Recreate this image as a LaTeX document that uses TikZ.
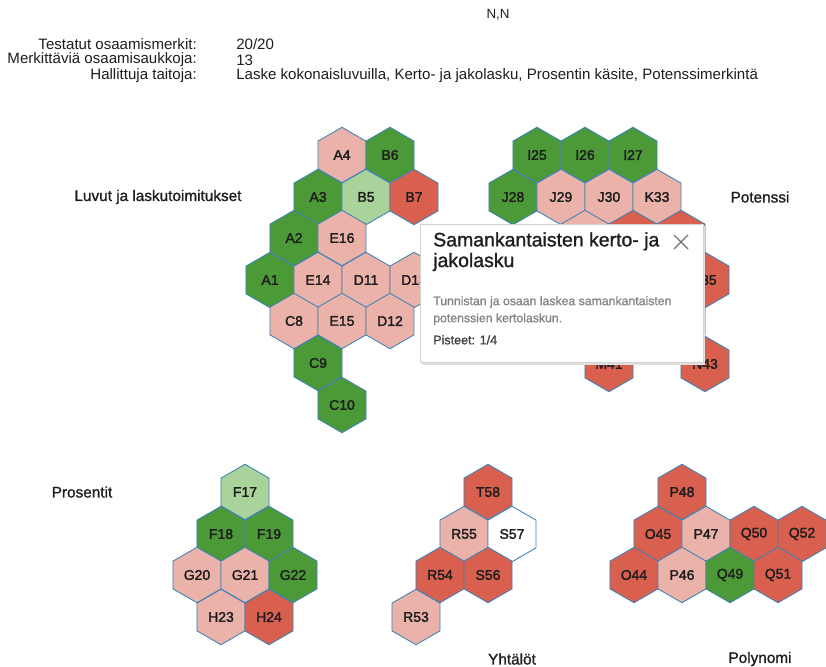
\documentclass[tikz,border=0pt]{standalone}
\usepackage{fontspec}
\setmainfont{Liberation Sans}
\newfontfamily\hexf[FakeBold=2]{Liberation Sans}
\newfontfamily\medf[FakeBold=1.2]{Liberation Sans}
\usetikzlibrary{shapes.geometric,calc}
\definecolor{hgreen}{HTML}{4C9A37}
\definecolor{hlgreen}{HTML}{A9D39B}
\definecolor{hpink}{HTML}{EBB2AA}
\definecolor{hred}{HTML}{D9604F}
\definecolor{hborder}{HTML}{3F82B6}
\definecolor{txt}{HTML}{1E1E1E}
\definecolor{gtxt}{HTML}{858585}
\tikzset{
  hexa/.style={regular polygon, regular polygon sides=6, shape border rotate=30,
    minimum size=41.6pt, inner sep=0pt, outer sep=0pt, draw=hborder, line width=0.65pt,
    font=\hexf\fontsize{10.5pt}{12pt}\selectfont, text=txt},
  cat/.style={font=\medf\fontsize{11.5pt}{13pt}\selectfont, text=txt, inner sep=0pt},
  head/.style={font=\fontsize{11.3pt}{13pt}\selectfont, text=txt, inner sep=0pt},
}
\newcommand\hx[5]{\node[hexa, fill=#4] (#1) at (#2,#3) {#5};}
\begin{document}
\begin{tikzpicture}[x=0.75pt,y=-0.75pt]
\useasboundingbox[fill=white] (0,0) rectangle (826,667);
% header
\node[head, font=\fontsize{10pt}{12pt}\selectfont] (nn) at (498,15) {N,N};
\node[head, anchor=east] (l1) at (197,44) {Testatut osaamismerkit:};
\node[head, anchor=east] (l2) at (197,60) {Merkittäviä osaamisaukkoja:};
\node[head, anchor=east] (l3) at (197,76) {Hallittuja taitoja:};
\node[head, anchor=west] (v1) at (236,44) {20/20};
\node[head, anchor=west] (v2) at (236,60) {13};
\node[head, anchor=west] (v3) at (236,76) {Laske kokonaisluvuilla, Kerto- ja jakolasku, Prosentin käsite, Potenssimerkintä};
% categories
\node[cat] (c1) at (158,197) {Luvut ja laskutoimitukset};
\node[cat] (c2) at (760,197) {Potenssi};
\node[cat] (c3) at (82,492) {Prosentit};
\node[cat] (c4) at (512,659) {Yhtälöt};
\node[cat] (c5) at (760,659) {Polynomi};
% Luvut ja laskutoimitukset
\hx{A4}{342}{155}{hpink}{A4}
\hx{B6}{390}{155}{hgreen}{B6}
\hx{A3}{318}{197}{hgreen}{A3}
\hx{B5}{366}{197}{hlgreen}{B5}
\hx{B7}{414}{197}{hred}{B7}
\hx{A2}{294}{238}{hgreen}{A2}
\hx{E16}{342}{238}{hpink}{E16}
\hx{A1}{270}{280}{hgreen}{A1}
\hx{E14}{318}{280}{hpink}{E14}
\hx{D11}{366}{280}{hpink}{D11}
\hx{D13}{414}{280}{hpink}{D13}
\hx{C8}{294}{321}{hpink}{C8}
\hx{E15}{342}{321}{hpink}{E15}
\hx{D12}{390}{321}{hpink}{D12}
\hx{C9}{318}{363}{hgreen}{C9}
\hx{C10}{342}{405}{hgreen}{C10}
% Potenssi
\hx{I25}{537}{155}{hgreen}{I25}
\hx{I26}{585}{155}{hgreen}{I26}
\hx{I27}{633}{155}{hgreen}{I27}
\hx{J28}{513}{197}{hgreen}{J28}
\hx{J29}{561}{197}{hpink}{J29}
\hx{J30}{609}{197}{hpink}{J30}
\hx{K33}{657}{197}{hpink}{K33}
\hx{p1}{585}{238}{hpink}{}
\hx{p2}{633}{238}{hred}{}
\hx{p3}{681}{238}{hred}{}
\hx{L35}{705}{280}{hred}{L35}
\hx{p4}{681}{321}{hred}{}
\hx{M41}{609}{364}{hred}{M41}
\hx{N43}{705}{364}{hred}{N43}
% Prosentit
\hx{F17}{245}{492}{hlgreen}{F17}
\hx{F18}{221}{534}{hgreen}{F18}
\hx{F19}{269}{534}{hgreen}{F19}
\hx{G20}{197}{575}{hpink}{G20}
\hx{G21}{245}{575}{hpink}{G21}
\hx{G22}{293}{575}{hgreen}{G22}
\hx{H23}{221}{617}{hpink}{H23}
\hx{H24}{269}{617}{hred}{H24}
% Yhtalot
\hx{T58}{488}{492}{hred}{T58}
\hx{R55}{464}{534}{hpink}{R55}
\hx{S57}{512}{534}{white}{S57}
\hx{R54}{440}{575}{hred}{R54}
\hx{S56}{488}{575}{hred}{S56}
\hx{R53}{416}{617}{hpink}{R53}
% Polynomi
\hx{P48}{682}{492}{hred}{P48}
\hx{O45}{658}{534}{hred}{O45}
\hx{P47}{706}{534}{hpink}{P47}
\hx{Q50}{754}{534}{hred}{Q50}
\hx{Q52}{802}{534}{hred}{Q52}
\hx{O44}{634}{575}{hred}{O44}
\hx{P46}{682}{575}{hpink}{P46}
\hx{Q49}{730}{575}{hgreen}{Q49}
\hx{Q51}{778}{575}{hred}{Q51}
% popup
\fill[black!12] (421.5,226.5) rectangle (704.5,364.5);
\node[draw=black!18, fill=white, line width=0.5pt, anchor=north west, minimum width=212pt, minimum height=103.5pt, inner sep=0pt] (pop) at (420,224) {};
\node[anchor=north west, align=left, inner sep=0pt, text=txt, font=\medf\fontsize{14.6pt}{15.5pt}\selectfont] (ptitle) at (433,232) {Samankantaisten kerto- ja\\jakolasku};
\node[anchor=north west, align=left, inner sep=0pt, text=gtxt, font=\medf\fontsize{9.2pt}{12.8pt}\selectfont] (pdesc) at (433,296) {Tunnistan ja osaan laskea samankantaisten\\potenssien kertolaskun.};
\node[anchor=north west, inner sep=0pt, text=black!75, font=\medf\fontsize{9.4pt}{10pt}\selectfont] (ppts) at (433,335) {Pisteet: 1/4};
\coordinate (xc) at (681,242);
\draw[black!55, line width=0.9pt] ($(xc)+(-7,-7)$) -- ($(xc)+(7,7)$);
\draw[black!55, line width=0.9pt] ($(xc)+(-7,7)$) -- ($(xc)+(7,-7)$);
\end{tikzpicture}
\end{document}
